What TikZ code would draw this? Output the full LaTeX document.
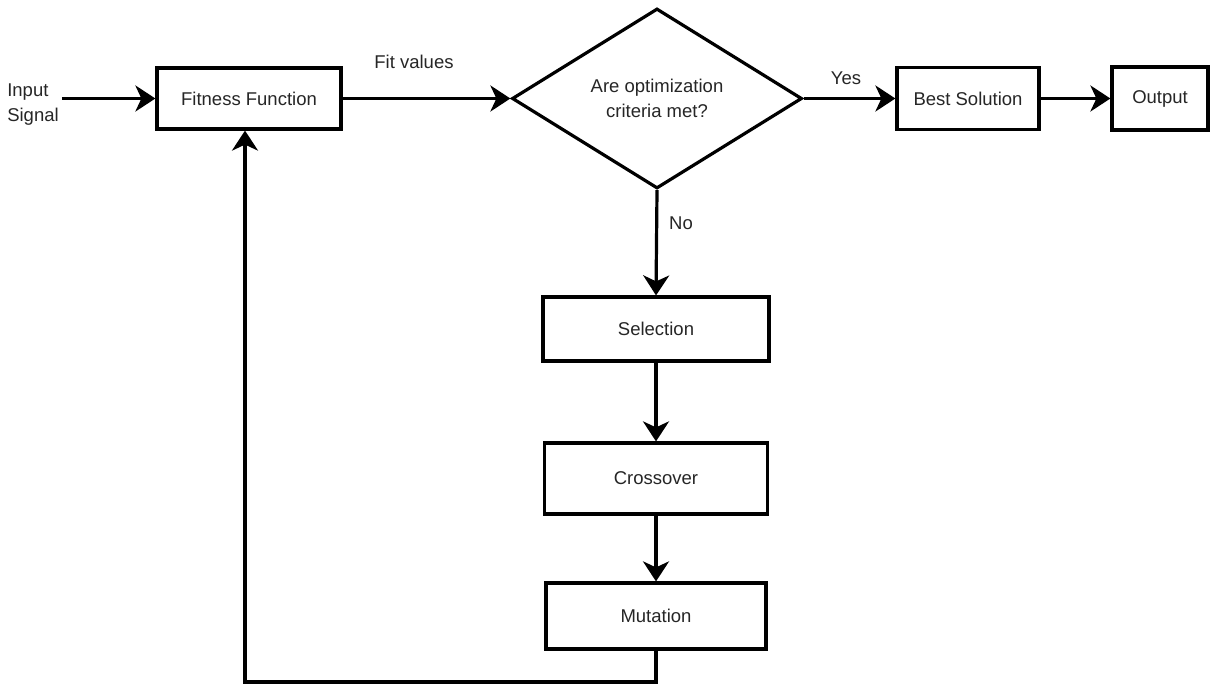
\documentclass[tikz,border=0pt]{standalone}
\usepackage{fontspec}
\setmainfont{Liberation Sans}
\usetikzlibrary{shapes.geometric,arrows.meta}
\begin{document}
\begin{tikzpicture}[x=1pt,y=-1pt,
  every node/.style={font=\fontsize{18.5}{25}\selectfont, text=black!85},
  box/.style={draw=black, line width=3.2pt, rectangle, inner sep=0pt, fill=white},
  decision/.style={draw=black, line width=3.2pt, diamond, inner sep=0pt, align=center,
    minimum width=290pt, minimum height=180pt},
  lbl/.style={inner sep=1pt},
  arr/.style={line width=3.2pt, -{Stealth[length=20pt,width=26pt,inset=6pt]}},
]
\useasboundingbox (0,0) rectangle (1214,684);
\fill[white] (0,0) rectangle (1214,684);

% main row
\node[lbl, align=left] (inp) at (33,105) {Input\\Signal};
\node[box, minimum width=184pt, minimum height=61pt] (ff) at (249,98.5) {Fitness Function};
\node[decision] (dec) at (657,98.5) {Are optimization\\criteria met?};
\node[box, minimum width=142pt, minimum height=62pt] (best) at (968,98.5) {Best Solution};
\node[box, minimum width=96pt, minimum height=63pt] (out) at (1160,98.5) {Output};

% genetic operators
\node[box, minimum width=226pt, minimum height=64pt] (sel) at (656,329) {Selection};
\node[box, minimum width=223pt, minimum height=71pt] (cro) at (656,478.5) {Crossover};
\node[box, minimum width=220pt, minimum height=66pt] (mut) at (656,616) {Mutation};

% edge labels
\node[lbl] (fitv) at (414,62) {Fit values};
\node[lbl] (yes) at (846,78) {Yes};
\node[lbl] (no) at (681,223) {No};

% connectors
\draw[arr] (inp.east |- ff.west) ++(2,0) coordinate (inpend) (inpend) -- (ff.west);
\draw[arr] (ff.east) -- (dec.west);
\draw[arr] (dec.east) -- (best.west);
\draw[arr] (best.east) -- (out.west);
\draw[arr] (dec.south) -- (sel.north);
\draw[arr] (sel.south) -- (cro.north);
\draw[arr] (cro.south) -- (mut.north);

% feedback loop back to the fitness evaluation
\coordinate (loopc) at (245,682);
\draw[arr] (mut.south) |- (loopc) -- (loopc |- ff.south);
\end{tikzpicture}
\end{document}
